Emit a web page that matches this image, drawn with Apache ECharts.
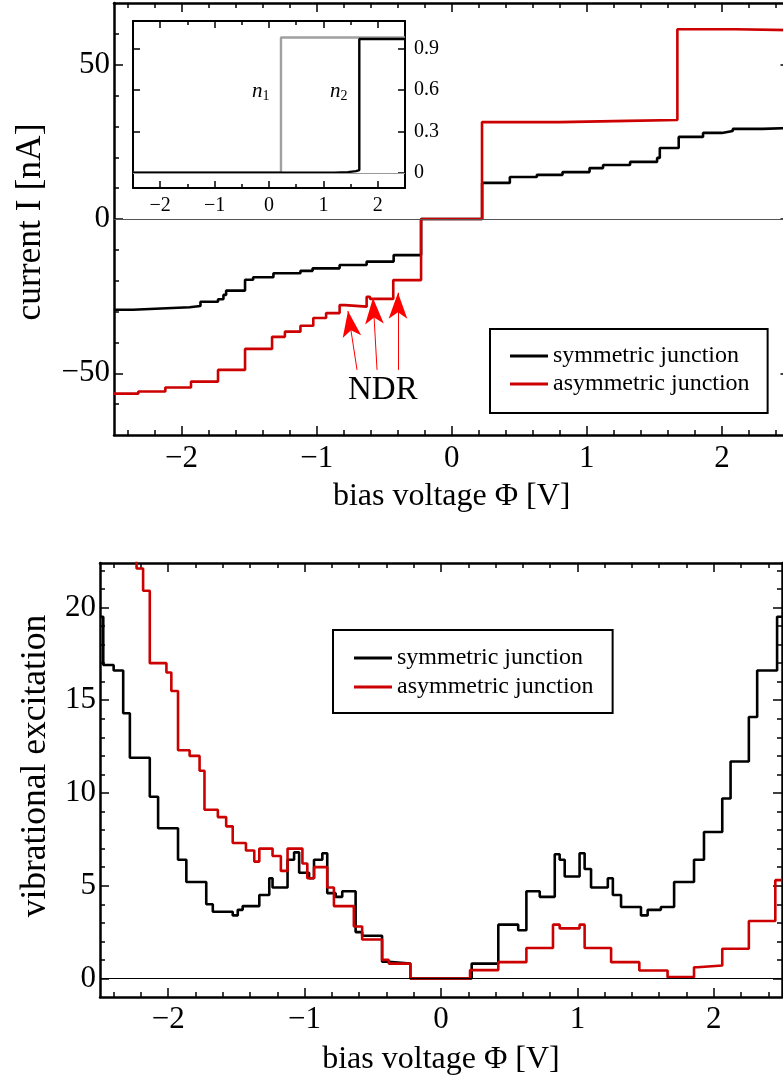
<!DOCTYPE html>
<html><head><meta charset="utf-8">
<script src="https://cdn.jsdelivr.net/npm/echarts@6/dist/echarts.min.js"></script>
<style>html,body{margin:0;padding:0;overflow:hidden;background:#fff}#c{width:800px;height:1082px}</style>
</head><body><div id="c"></div>
<script>
// ---------------- data ----------------
const seriesNames = ['symmetric junction', 'asymmetric junction'];

// top panel: current I [nA] vs bias [V]; step breakpoints [V, I] (value holds until next V)
const currentSym = [[-2.5,-29.4],[-2.36,-28.9],[-2.11,-28.6],[-1.94,-28.2],[-1.86,-26.8],[-1.73,-26.0],[-1.69,-24.6],[-1.67,-23.2],[-1.53,-19.7],[-1.47,-18.9],[-1.32,-17.6],[-1.12,-16.8],[-1.03,-16.0],[-0.83,-14.9],[-0.63,-13.8],[-0.43,-11.7],[-0.227,0],[0.225,11.7],[0.43,13.6],[0.63,14.3],[0.82,15.2],[1.02,16.5],[1.12,17.5],[1.32,18.5],[1.52,19.8],[1.54,23.0],[1.68,26.6],[1.86,27.9],[2.0,28.5],[2.08,29.2],[2.3,29.5],[2.5,29.5]];
const currentAsym = [[-2.5,-56.6],[-2.32,-55.9],[-2.12,-54.6],[-1.93,-52.7],[-1.73,-48.9],[-1.53,-42.1],[-1.33,-38.2],[-1.235,-36.5],[-1.12,-34.6],[-1.025,-32.1],[-0.93,-30.5],[-0.83,-27.9],[-0.79,-28.4],[-0.63,-25.2],[-0.605,-25.9],[-0.433,-19.8],[-0.227,0],[0.224,31.4],[0.8,31.8],[1.3,32.1],[1.67,61.5],[2.1,61.2],[2.5,60.9]];

// inset: occupations n1, n2 vs bias
const occN1 = [[-2.5,0],[0.22,0.98],[2.5,0.98]];
const occN2 = [[-2.5,0],[1.2,0.005],[1.45,0.012],[1.6,0.02],[1.66,0.97],[2.5,0.975]];

// bottom panel: vibrational excitation vs bias
const excSym = [[-2.5,19.5],[-2.476,16.9],[-2.40,16.6],[-2.33,14.3],[-2.281,11.9],[-2.135,9.8],[-2.074,8.1],[-1.928,6.4],[-1.867,5.2],[-1.721,4.0],[-1.673,3.6],[-1.527,3.4],[-1.49,3.7],[-1.454,3.9],[-1.332,4.5],[-1.259,5.4],[-1.235,4.9],[-1.125,6.4],[-1.077,6.8],[-1.04,5.7],[-0.967,5.4],[-0.931,6.4],[-0.87,6.75],[-0.834,4.6],[-0.772,4.4],[-0.724,4.7],[-0.626,2.5],[-0.578,2.3],[-0.432,0.9],[-0.383,0.8],[-0.225,0],[0.225,0.8],[0.42,2.9],[0.566,2.6],[0.626,4.7],[0.724,4.4],[0.834,6.7],[0.87,6.4],[0.907,5.5],[1.016,6.75],[1.053,5.9],[1.1,4.9],[1.223,5.4],[1.26,4.5],[1.32,3.85],[1.466,3.4],[1.515,3.7],[1.612,3.85],[1.709,5.2],[1.855,6.4],[1.928,7.9],[2.062,9.7],[2.123,11.7],[2.257,14.1],[2.318,16.6],[2.464,19.5],[2.5,19.5]];
const excAsym = [[-2.5,24.5],[-2.232,22.1],[-2.184,20.9],[-2.135,17.0],[-2.013,16.5],[-1.977,15.5],[-1.928,12.3],[-1.843,12.0],[-1.77,11.2],[-1.734,9.1],[-1.636,8.7],[-1.575,8.2],[-1.527,7.3],[-1.43,6.9],[-1.369,6.3],[-1.332,7.0],[-1.235,6.6],[-1.174,5.8],[-1.125,7.0],[-1.016,6.2],[-0.98,5.4],[-0.931,6.0],[-0.834,4.9],[-0.785,3.9],[-0.639,2.8],[-0.578,2.1],[-0.432,1.0],[-0.383,0.8],[-0.225,0],[0.213,0.45],[0.42,0.88],[0.626,1.64],[0.821,2.9],[0.87,2.7],[1.016,2.9],[1.053,1.64],[1.247,0.88],[1.454,0.43],[1.661,0.07],[1.855,0.6],[1.88,0.7],[2.062,1.6],[2.257,3.1],[2.451,5.3],[2.5,5.3]];

// tick labels
const topXTicks = [-2,-1,0,1,2];
const topYTicks = [-50,0,50];
const insetXTicks = [-2,-1,0,1,2];
const insetYTicks = [0,0.3,0.6,0.9];
const botXTicks = [-2,-1,0,1,2];
const botYTicks = [0,5,10,15,20];

// annotations (data coordinates): NDR arrows [tail, tip], label, inset labels
const ndrArrows = [[[-0.701,-48.9],[-0.768,-29.8]],[[-0.553,-48.9],[-0.583,-25.6]],[[-0.398,-48.9],[-0.398,-23.9]]];
const ndrLabel = [-0.51,-55.4];
const insetLabels = [{sub:'1', coord:[-0.15,0.59]},{sub:'2', coord:[1.28,0.59]}];

// ---------------- chart ----------------
const FONT = "'Liberation Serif','DejaVu Serif','Times New Roman',serif";
const RED = '#cc0000';
const FRAME_W = 2.5;
const fmt = v => String(v).replace('-', '\u2212');
function minors(min, max, step, majorStep) {
  const out = [];
  for (let k = Math.ceil(min / step - 1e-9); k * step <= max + 1e-9; k++) {
    const v = Math.round(k * step * 1000) / 1000;
    if (v <= min + 1e-6 || v >= max - 1e-6) continue;
    if (Math.abs(v / majorStep - Math.round(v / majorStep)) < 1e-6) continue;
    out.push(v);
  }
  return out;
}
const xAxes = [], yAxes = [];
function addAxes(list, gi, sides, min, max, major, minor, majLen, minLen, labelSide, labelCfg, nameCfg, lw) {
  const first = list.length;
  sides.forEach(side => {
    const lab = side === labelSide;
    list.push(Object.assign({
      type: 'value', gridIndex: gi, position: side, min: min, max: max,
      axisLine: {show: true, onZero: false, lineStyle: {color: '#000', width: lw}},
      axisTick: {show: true, inside: true, length: majLen, customValues: major, lineStyle: {color: '#000', width: 1.5}},
      axisLabel: lab ? Object.assign({show: true, customValues: major, formatter: fmt, color: '#000', fontFamily: FONT}, labelCfg) : {show: false},
      splitLine: {show: false}
    }, lab && nameCfg ? nameCfg : {}));
    list.push({
      type: 'value', gridIndex: gi, position: side, min: min, max: max,
      axisLine: {show: false, onZero: false},
      axisTick: {show: true, inside: true, length: minLen, customValues: minor, lineStyle: {color: '#000', width: 1.5}},
      axisLabel: {show: false}, splitLine: {show: false}
    });
  });
  return first;
}
const xNameStyle = {fontFamily: FONT, fontSize: 32, color: '#000'};
const yNameStyle = {fontFamily: FONT, fontSize: 35.5, color: '#000'};
// top panel
const tx = addAxes(xAxes, 0, ['bottom','top'], -2.5, 2.5, topXTicks, minors(-2.5,2.5,0.2,1), 9, 5, 'bottom',
  {fontSize: 31, margin: 8}, {name: 'bias voltage \u03A6 [V]', nameLocation: 'middle', nameGap: 46, nameTextStyle: xNameStyle}, FRAME_W);
const ty = addAxes(yAxes, 0, ['left','right'], -70, 70, topYTicks, minors(-70,70,10,50), 9, 5, 'left',
  {fontSize: 31, margin: 4}, {name: 'current I [nA]', nameLocation: 'middle', nameGap: 65,
   nameTextStyle: Object.assign({}, yNameStyle, {padding: [0, 6, 0, 0]})}, FRAME_W);
// inset
const ix = addAxes(xAxes, 1, ['bottom','top'], -2.5, 2.5, insetXTicks, minors(-2.5,2.5,0.5,1), 7, 4, 'bottom',
  {fontSize: 20, margin: 8}, null, 2);
const iy = addAxes(yAxes, 1, ['right','left'], -0.11, 1.1, insetYTicks, [], 7, 4, 'right',
  {fontSize: 20, margin: 9}, null, 2);
// bottom panel
const bx = addAxes(xAxes, 2, ['bottom','top'], -2.5, 2.5, botXTicks, minors(-2.5,2.5,0.2,1), 9, 5, 'bottom',
  {fontSize: 31, margin: 7}, {name: 'bias voltage \u03A6 [V]', nameLocation: 'middle', nameGap: 47, nameTextStyle: xNameStyle}, FRAME_W);
const by = addAxes(yAxes, 2, ['left','right'], -1, 22.4, botYTicks, minors(-1,22.4,1,5), 9, 5, 'left',
  {fontSize: 31, margin: 4}, {name: 'vibrational excitation', nameLocation: 'middle', nameGap: 45,
   nameTextStyle: Object.assign({}, yNameStyle, {padding: [0, 0, 0, 28]})}, FRAME_W);

function zeroLine(xi, yi, color) {
  return {type: 'line', xAxisIndex: xi, yAxisIndex: yi, data: [], z: 1, silent: true,
    markLine: {silent: true, symbol: 'none', animation: false, label: {show: false},
      lineStyle: {color: color, width: 1, type: 'solid'}, emphasis: {disabled: true}, data: [{yAxis: 0}]}};
}
function stepLine(name, data, color, xi, yi, width, z) {
  return {name: name, type: 'line', step: 'end', data: data, xAxisIndex: xi, yAxisIndex: yi,
    showSymbol: false, symbol: 'none', z: z || 3, color: color,
    lineStyle: {color: color, width: width}, itemStyle: {color: color}};
}

const topRed = stepLine(seriesNames[1], currentAsym, RED, tx, ty, 2.6, 4);
topRed.markLine = {silent: true, symbol: ['none','arrow'], symbolSize: 20, animation: false,
  label: {show: false}, lineStyle: {color: '#ff0000', width: 1, type: 'solid'}, itemStyle: {color: '#ff0000'},
  emphasis: {disabled: true},
  data: ndrArrows.map(a => [{coord: a[0], symbol: 'none', symbolSize: 1},
                            {coord: a[1], symbol: 'arrow', symbolSize: [14, 26]}])};
topRed.markPoint = {silent: true, symbol: 'rect', symbolSize: 1, itemStyle: {color: 'rgba(0,0,0,0)'}, animation: false,
  label: {show: true, position: 'inside', formatter: 'NDR', fontFamily: FONT, fontSize: 33, color: '#000'},
  data: [{coord: ndrLabel}]};

const insetN2 = stepLine('n2', occN2, '#000', ix, iy, 2.4, 4);
insetN2.markPoint = {silent: true, symbol: 'rect', symbolSize: 1, itemStyle: {color: 'rgba(0,0,0,0)'}, animation: false,
  label: {show: true, position: 'inside', color: '#000', fontFamily: FONT,
    formatter: p => '{i|n}{s|' + p.name + '}',
    rich: {i: {fontFamily: FONT, fontStyle: 'italic', fontSize: 21, color: '#000'},
           s: {fontFamily: FONT, fontSize: 14, color: '#000', padding: [9, 0, 0, 0]}}},
  data: insetLabels.map(l => ({name: l.sub, coord: l.coord}))};

const legendBase = {orient: 'vertical', icon: 'rect', itemWidth: 38, itemHeight: 3, selectedMode: false,
  borderColor: '#000', borderWidth: 2, backgroundColor: '#fff', data: seriesNames,
  textStyle: {fontFamily: FONT, fontSize: 24, color: '#000', lineHeight: 26}};

const option = {
  animation: false,
  backgroundColor: '#fff',
  grid: [
    {left: 114, top: 3, width: 675.5, height: 432},
    {left: 133, top: 21, width: 272, height: 167},
    {left: 100, top: 563, width: 682, height: 434}
  ],
  xAxis: xAxes,
  yAxis: yAxes,
  legend: [
    Object.assign({}, legendBase, {left: 490, top: 329, padding: [14, 18, 16, 20], itemGap: 2}),
    Object.assign({}, legendBase, {left: 333, top: 630, padding: [15, 19, 13, 21], itemGap: 3})
  ],
  series: [
    zeroLine(tx, ty, '#555'),
    stepLine(seriesNames[0], currentSym, '#000', tx, ty, 2.6, 3),
    topRed,
    zeroLine(ix, iy, '#999'),
    stepLine('n1', occN1, '#a0a0a0', ix, iy, 2.4, 3),
    insetN2,
    zeroLine(bx, by, '#000'),
    stepLine(seriesNames[0], excSym, '#000', bx, by, 2.6, 3),
    stepLine(seriesNames[1], excAsym, RED, bx, by, 2.6, 4)
  ]
};
const chart = echarts.init(document.getElementById('c'), null, {renderer: 'canvas', width: 800, height: 1082});
chart.setOption(option);
</script>
</body></html>
